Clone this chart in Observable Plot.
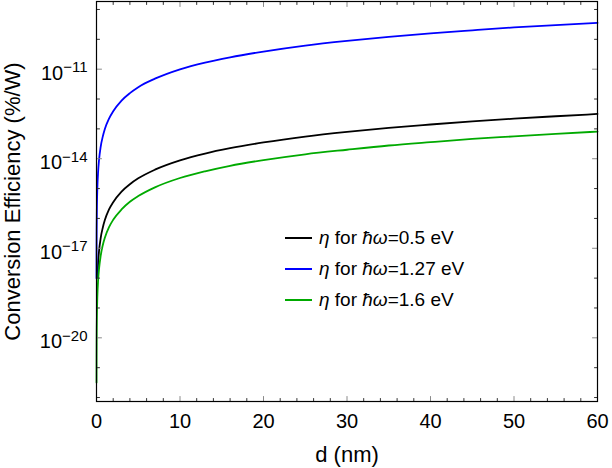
<!DOCTYPE html>
<html><head><meta charset="utf-8">
<script src="https://cdn.jsdelivr.net/npm/d3@7"></script>
<script src="https://cdn.jsdelivr.net/npm/@observablehq/plot@0.6"></script>
<style>
body{margin:0;background:#fff;font-family:"Liberation Sans",Arial,sans-serif;}
#wrap{position:relative;width:612px;height:468px;}
#legend{position:absolute;left:285px;top:222px;font-size:19px;color:#000;line-height:1;}
.row{display:flex;align-items:center;height:31px;white-space:nowrap;}
.sw{width:27px;height:0;border-top:2px solid;margin-right:7px;}
</style></head><body><div id="wrap"><div id="legend"></div></div>
<script>
// d (nm) samples and conversion efficiency (%/W)
const dBlack   = [0.11, 0.2, 0.3, 0.5, 0.75, 1, 1.5, 2, 3, 4, 5, 7, 10, 13, 16, 20, 25, 30, 35, 40, 45, 50, 55, 60];
const etaBlack = [1.07e-18, 3.5e-18, 7.9e-18, 2.2e-17, 4.9e-17, 8.8e-17, 2.0e-16, 3.5e-16, 7.9e-16, 1.4e-15, 2.2e-15, 4.3e-15, 8.8e-15, 1.49e-14, 2.25e-14, 3.5e-14, 5.5e-14, 7.9e-14, 1.08e-13, 1.4e-13, 1.78e-13, 2.2e-13, 2.65e-13, 3.16e-13];

const dBlue    = [0.0032, 0.01, 0.02, 0.05, 0.1, 0.2, 0.3, 0.5, 0.75, 1, 1.5, 2, 3, 4, 5, 7, 10, 13, 16, 20, 25, 30, 35, 40, 45, 50, 55, 60];
const etaBlue  = [1.0e-18, 9.9e-18, 3.9e-17, 2.5e-16, 9.9e-16, 3.9e-15, 8.9e-15, 2.5e-14, 5.5e-14, 9.9e-14, 2.2e-13, 3.9e-13, 8.9e-13, 1.58e-12, 2.5e-12, 4.8e-12, 9.9e-12, 1.67e-11, 2.5e-11, 3.9e-11, 6.2e-11, 8.9e-11, 1.21e-10, 1.58e-10, 2.0e-10, 2.5e-10, 3.0e-10, 3.55e-10];

const dGreen   = [0.0037, 0.01, 0.02, 0.05, 0.1, 0.2, 0.3, 0.5, 0.75, 1, 1.5, 2, 3, 4, 5, 7, 10, 13, 16, 20, 25, 30, 35, 40, 45, 50, 55, 60];
const etaGreen = [3.2e-22, 2.3e-21, 9.0e-21, 5.6e-20, 2.3e-19, 9.0e-19, 2.0e-18, 5.6e-18, 1.27e-17, 2.26e-17, 5.1e-17, 9.0e-17, 2.0e-16, 3.6e-16, 5.6e-16, 1.1e-15, 2.26e-15, 3.8e-15, 5.8e-15, 9.0e-15, 1.41e-14, 2.0e-14, 2.77e-14, 3.6e-14, 4.6e-14, 5.6e-14, 6.8e-14, 8.1e-14];

const seriesNames  = ["0.5", "1.27", "1.6"];
const seriesColors = ["#000000", "#0000ff", "#00aa00"];

const xMajor = [0, 10, 20, 30, 40, 50, 60];
const xMinor = [2,4,6,8,12,14,16,18,22,24,26,28,32,34,36,38,42,44,46,48,52,54,56,58];
const yMajor = [1e-20, 1e-17, 1e-14, 1e-11];
const yMajorLabels = ["\u221220", "\u221217", "\u221214", "\u221211"];
const yMinor = [1e-22, 1e-21, 1e-19, 1e-18, 1e-16, 1e-15, 1e-13, 1e-12, 1e-10, 1e-9];
const yDomain = [7.36e-23, 1.85e-9];

const rows = [];
[[dBlack, etaBlack], [dBlue, etaBlue], [dGreen, etaGreen]].forEach(([ds, es], k) => {
  ds.forEach((d, i) => rows.push({d, eta: es[i], s: seriesNames[k]}));
});

const tickShape = {draw(ctx, l) { ctx.moveTo(0, 0); ctx.lineTo(0, -l); }};
function ticks(data, ch, anchor, rotate, length, stroke) {
  return Plot.vector(data, {[ch]: v => v, frameAnchor: anchor, anchor: "start", rotate, length, shape: tickShape, stroke, strokeWidth: 1});
}

const svg = Plot.plot({
  width: 612, height: 468,
  marginLeft: 96, marginRight: 15, marginTop: 1, marginBottom: 67,
  style: {fontFamily: "Liberation Sans, Arial, sans-serif", background: "#fff", color: "#000"},
  x: {domain: [0, 60]},
  y: {type: "log", domain: yDomain},
  color: {domain: seriesNames, range: seriesColors},
  marks: [
    Plot.line(rows, {x: "d", y: "eta", z: "s", stroke: "s", strokeWidth: 1.8, curve: "monotone-x"}),
    ticks(xMajor, "x", "bottom", 0, 5, "#8a8a8a"),
    ticks(xMinor, "x", "bottom", 0, 3, "#333"),
    ticks(xMajor, "x", "top", 180, 5, "#8a8a8a"),
    ticks(xMinor, "x", "top", 180, 3, "#333"),
    ticks(yMajor, "y", "left", 90, 5, "#8a8a8a"),
    ticks(yMinor, "y", "left", 90, 3, "#333"),
    ticks(yMajor, "y", "right", -90, 5, "#8a8a8a"),
    ticks(yMinor, "y", "right", -90, 3, "#333"),
    Plot.frame({stroke: "#000", strokeWidth: 1.2}),
    Plot.axisX({ticks: xMajor, tickSize: 0, tickPadding: 12, fontSize: 20, tickFormat: d => String(d),
      label: "d (nm)", labelAnchor: "center", labelArrow: "none", labelOffset: 60}),
    Plot.axisY({ticks: yMajor, tickSize: 0, tickPadding: 9, fontSize: 20, dy: 4,
      tickFormat: v => yMajorLabels[yMajor.indexOf(v)],
      label: "Conversion Efficiency (%/W)", labelAnchor: "center", labelArrow: "none", labelOffset: 92})
  ]
});

d3.select(svg).selectAll('g[aria-label="y-axis tick label"] text').each(function() {
  const t = this.textContent;
  const s = d3.select(this);
  s.text("10");
  s.append("tspan").attr("font-size", "15px").attr("dy", "-0.48em").text(t);
});
d3.select(svg).selectAll('g[aria-label="x-axis label"] text, g[aria-label="y-axis label"] text').attr("font-size", 22);

document.getElementById("wrap").prepend(svg);

const legend = document.getElementById("legend");
seriesNames.forEach((n, i) => {
  const r = document.createElement("div");
  r.className = "row";
  r.innerHTML = `<span class="sw" style="border-color:${seriesColors[i]}"></span><span><i>\u03B7</i> for <i>\u0127\u03C9</i>=${n} eV</span>`;
  legend.appendChild(r);
});
</script></body></html>
